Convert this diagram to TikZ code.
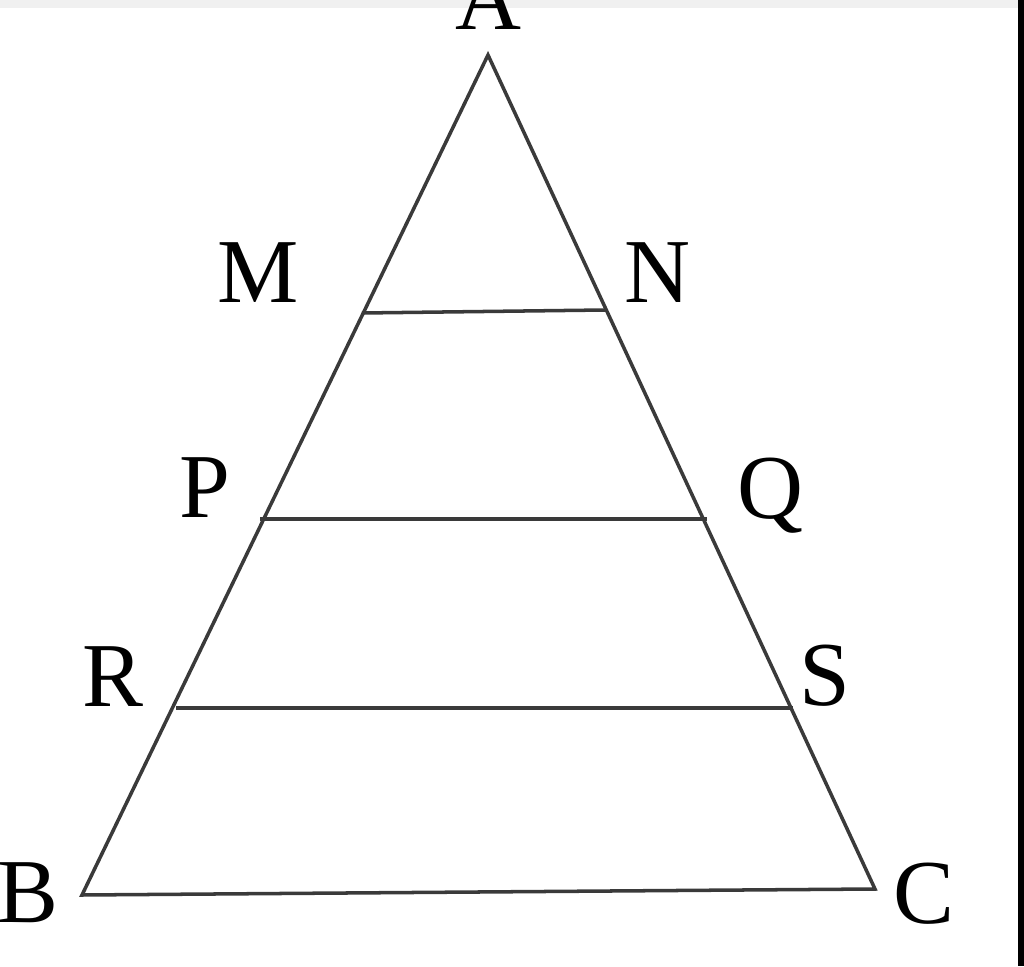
\documentclass[tikz,border=0pt]{standalone}
\usepackage{fontspec}
\setmainfont{Liberation Serif}
\usepackage{xcolor}
\definecolor{line-grey}{HTML}{3A3A3A}
\definecolor{edge-grey}{HTML}{F0F0F0}
\usepackage{tikz}

\tikzset{
    side/.style={draw=line-grey, line width=1pt},
    vertex/.style={anchor=base, inner sep=0pt, font=\fontsize{26}{30}\selectfont}
}

\begin{document}
\begin{tikzpicture}

    % Frame
    \useasboundingbox (0, 0) rectangle (10.24, 9.66);
    \clip (0, 0) rectangle (10.24, 9.66);
    \fill[edge-grey] (0, 9.58) rectangle (10.24, 9.66);
    \fill[black] (10.18, 0) rectangle (10.24, 9.66);

    % Points
    \coordinate (A) at (4.88, 9.11);
    \coordinate (B) at (0.82, 0.71);
    \coordinate (C) at (8.75, 0.77);
    \coordinate (M) at (3.62, 6.53);
    \coordinate (N) at (6.05, 6.56);
    \coordinate (P) at (2.60, 4.47);
    \coordinate (Q) at (7.07, 4.47);
    \coordinate (R) at (1.76, 2.58);
    \coordinate (S) at (7.93, 2.58);

    % Triangle
    \draw[side] (A) -- (B) -- (C) -- cycle;

    % Parallels
    \draw[side] (M) -- (N);
    \draw[side] (P) -- (Q);
    \draw[side] (R) -- (S);

    % Labels
    \node[vertex] (lA) at (4.88, 9.36) {A};
    \node[vertex] (lB) at (0.28, 0.44) {B};
    \node[vertex] (lC) at (9.24, 0.43) {C};
    \node[vertex] (lM) at (2.58, 6.64) {M};
    \node[vertex] (lN) at (6.57, 6.64) {N};
    \node[vertex] (lP) at (2.05, 4.49) {P};
    \node[vertex] (lQ) at (7.70, 4.48) {Q};
    \node[vertex] (lR) at (1.13, 2.60) {R};
    \node[vertex] (lS) at (8.25, 2.61) {S};

\end{tikzpicture}
\end{document}
